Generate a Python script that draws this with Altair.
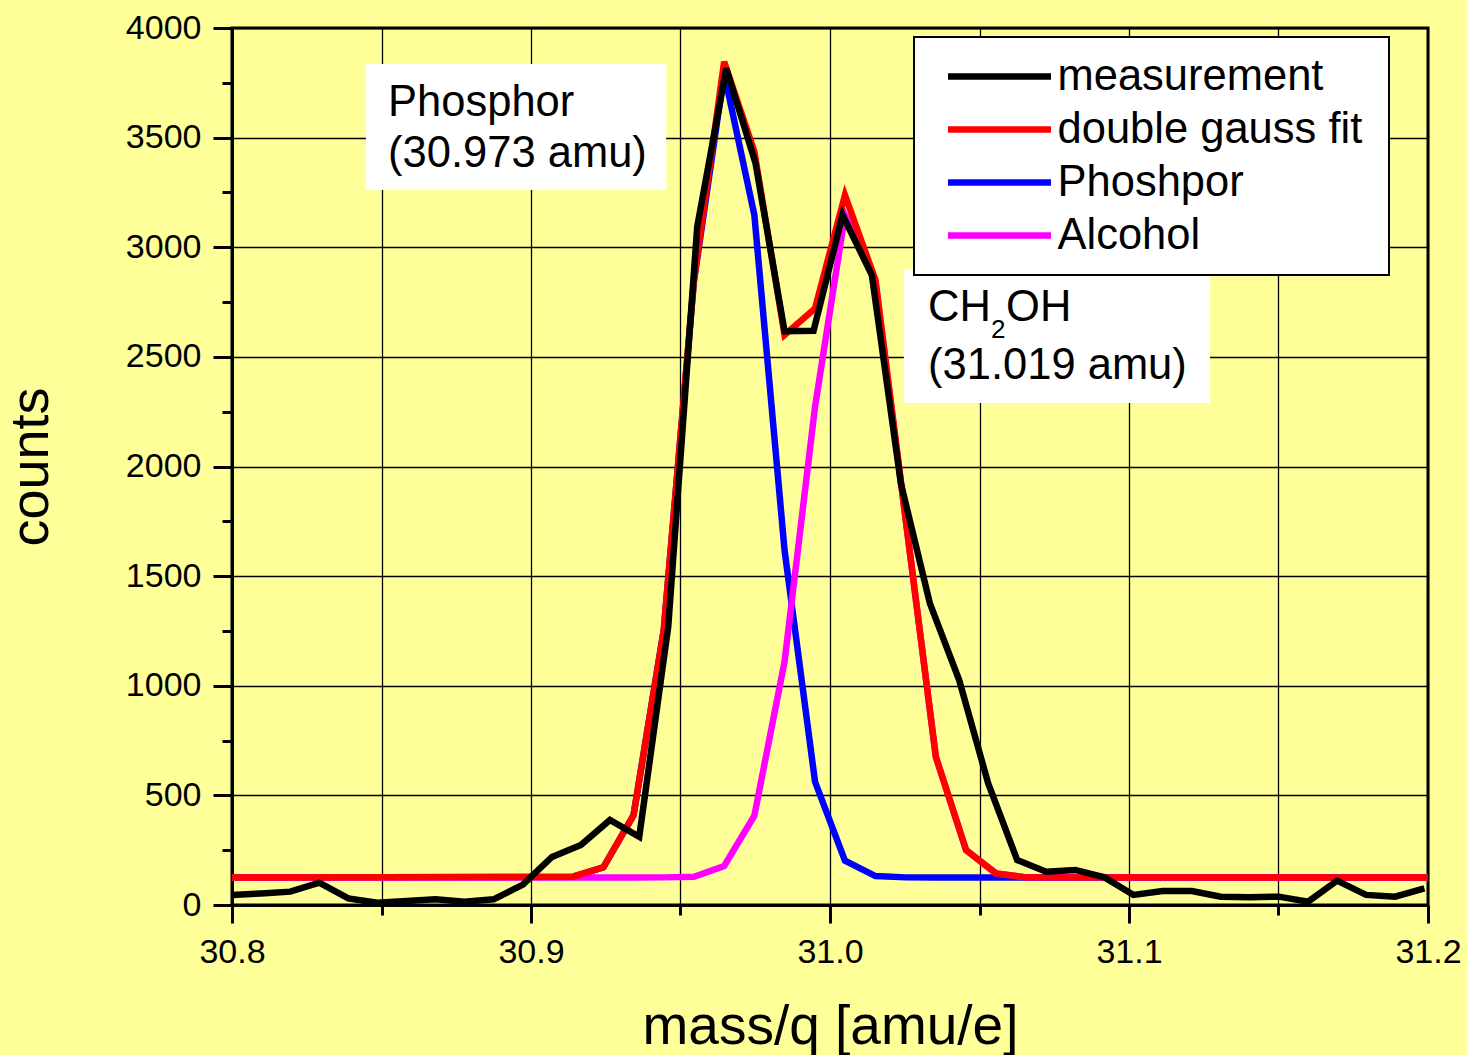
import altair as alt
import pandas as pd

# ---- measured spectrum: mass/q grid and counts ----
mass_meas = [30.8000, 30.8097, 30.8195, 30.8292, 30.8389, 30.8486, 30.8584, 30.8681,
             30.8778, 30.8875, 30.8973, 30.9070, 30.9167, 30.9264, 30.9362, 30.9459,
             30.9556, 30.9653, 30.9751, 30.9848, 30.9945, 31.0042, 31.0140, 31.0237,
             31.0334, 31.0432, 31.0529, 31.0626, 31.0723, 31.0821, 31.0918, 31.1015,
             31.1112, 31.1210, 31.1307, 31.1404, 31.1501, 31.1599, 31.1696, 31.1793,
             31.1890, 31.1988]
counts_meas = [46, 53, 61, 102, 30, 10, 18, 26, 15, 26,
               93, 219, 274, 388, 311, 1269, 3094, 3816, 3383, 2617,
               2619, 3147, 2873, 1923, 1376, 1026, 555, 205, 152, 160,
               126, 46, 64, 64, 38, 35, 38, 15, 111, 46,
               38, 76]

# ---- fit curves evaluated on the fit grid ----
mass_fit = [30.8000, 30.9141, 30.9242, 30.9343, 30.9444, 30.9545, 30.9646, 30.9747,
            30.9848, 30.9950, 31.0050, 31.0152, 31.0253, 31.0354, 31.0455, 31.0555,
            31.0656, 31.2000]
fit_total = [125, 129, 172, 410, 1254, 2850, 3846, 3436, 2600, 2721,
             3238, 2851, 1760, 676, 251, 144, 126, 125]
fit_phosphor = [125, 129, 172, 410, 1254, 2846, 3793, 3147, 1619, 562,
                202, 132, 126, 125, 125, 125, 125, 125]
fit_alcohol = [125, 125, 125, 125, 126, 129, 178, 407, 1110, 2273,
               3147, 2845, 1759, 675, 251, 144, 126, 125]

series_names = ["measurement", "double gauss fit", "Phoshpor", "Alcohol"]
series_colors = ["#000000", "#FF0000", "#0000FF", "#FF00FF"]
series_widths = [6.5, 6.5, 3.5, 3.5]

x_ticks = [30.8, 30.85, 30.9, 30.95, 31.0, 31.05, 31.1, 31.15, 31.2]
y_ticks = [0, 250, 500, 750, 1000, 1250, 1500, 1750, 2000, 2250, 2500,
           2750, 3000, 3250, 3500, 3750, 4000]

frames = [
    pd.DataFrame({"mass": mass_meas, "counts": counts_meas, "series": "measurement"}),
    pd.DataFrame({"mass": mass_fit, "counts": fit_total, "series": "double gauss fit"}),
    pd.DataFrame({"mass": mass_fit, "counts": fit_phosphor, "series": "Phoshpor"}),
    pd.DataFrame({"mass": mass_fit, "counts": fit_alcohol, "series": "Alcohol"}),
]
df = pd.concat(frames, ignore_index=True)

FONT = "Liberation Sans"

major_x = "abs(datum.value * 10 - round(datum.value * 10)) < 0.001"
major_y = "datum.value % 500 === 0"

x_axis = alt.Axis(
    values=x_ticks, title="mass/q [amu/e]",
    grid=True, gridColor="black", gridWidth=1.3, gridOpacity=1,
    domainColor="black", domainWidth=3,
    tickColor="black", tickWidth=3,
    tickSize={"condition": {"test": major_x, "value": 18}, "value": 10},
    labelExpr=f"({major_x}) ? format(datum.value, '.1f') : ''",
    labelFont=FONT, labelFontSize=34, labelColor="black", labelPadding=12,
    labelFlush=False, labelOverlap=False,
    titleFont=FONT, titleFontSize=55, titleFontWeight="normal", titleColor="black",
    titleX=598, titleY=138, titleBaseline="alphabetic", titleAlign="center",
)
y_axis = alt.Axis(
    values=y_ticks, title="counts",
    grid=True, gridColor="black", gridWidth=1.3,
    gridOpacity={"condition": {"test": major_y, "value": 1}, "value": 0},
    domainColor="black", domainWidth=3,
    tickColor="black", tickWidth=3,
    tickSize={"condition": {"test": major_y, "value": 19}, "value": 10},
    labelExpr=f"({major_y}) ? format(datum.value, 'd') : ''",
    labelFont=FONT, labelFontSize=34, labelColor="black", labelPadding=12,
    labelFlush=False, labelOverlap=False,
    titleFont=FONT, titleFontSize=54, titleFontWeight="normal", titleColor="black",
    titleAngle=270, titleX=-185, titleY=438.5, titleBaseline="alphabetic", titleAlign="center",
)

# a blank title placed to the right widens the legend frame on that side
legend = alt.Legend(
    title="\u00a0", titleOrient="right", titleFontSize=12, titlePadding=9,
    orient="none", legendX=682, legendY=9, direction="vertical",
    symbolType="stroke", symbolSize=10609, symbolOffset=13, clipHeight=44,
    symbolStrokeWidth=5,
    rowPadding=9, padding=17.5, labelFont=FONT, labelFontSize=43.5, labelOffset=3,
    labelColor="black", labelLimit=600, fillColor="white", strokeColor="black",
)

x_enc = alt.X("mass:Q", scale=alt.Scale(domain=[30.8, 31.2], nice=False, zero=False), axis=x_axis)
y_enc = alt.Y("counts:Q", scale=alt.Scale(domain=[0, 4000], nice=False), axis=y_axis)
color_enc = alt.Color("series:N", scale=alt.Scale(domain=series_names, range=series_colors), legend=legend)
width_enc = alt.StrokeWidth("series:N", scale=alt.Scale(domain=series_names, range=series_widths), legend=None)

base = alt.Chart(df)
line_layers = []
for name in ["Phoshpor", "Alcohol", "double gauss fit", "measurement"]:
    line_layers.append(
        base.transform_filter(alt.datum.series == name)
        .mark_line(clip=True)
        .encode(x=x_enc, y=y_enc, color=color_enc, strokeWidth=width_enc)
    )

# white label boxes behind the peak annotations (data units)
label_boxes = pd.DataFrame({
    "m0": [30.8448, 31.0247], "m1": [30.9452, 31.1271],
    "c0": [3836, 2900], "c1": [3261, 2290],
})
boxes = alt.Chart(label_boxes).mark_rect(fill="white", stroke=None).encode(
    x="m0:Q", x2="m1:Q", y="c0:Q", y2="c1:Q")

label_lines = pd.DataFrame({
    "m": [30.8522, 30.8522, 31.0328, 31.0328],
    "c": [3600, 3365, 2664, 2399],
    "t": ["Phosphor", "(30.973 amu)", "CH", "(31.019 amu)"],
})
texts = alt.Chart(label_lines).mark_text(
    align="left", baseline="alphabetic", font=FONT, fontSize=43.5, color="black"
).encode(x="m:Q", y="c:Q", text="t:N")

formula_tail = pd.DataFrame({"m": [31.0328], "c": [2664]})
sub2 = alt.Chart(formula_tail).mark_text(
    align="left", baseline="alphabetic", font=FONT, fontSize=26, color="black", dx=63, dy=17
).encode(x="m:Q", y="c:Q", text=alt.value("2"))
oh = alt.Chart(formula_tail).mark_text(
    align="left", baseline="alphabetic", font=FONT, fontSize=43.5, color="black", dx=78
).encode(x="m:Q", y="c:Q", text=alt.value("OH"))

chart = alt.layer(boxes, texts, sub2, oh, *line_layers).properties(
    width=1196, height=877,
    autosize=alt.AutoSizeParams(type="none"),
    padding={"left": 232, "top": 28, "right": 39, "bottom": 150},
    background="#FFFF99",
).configure_view(
    stroke="black", strokeWidth=3, fill="#FFFF99"
).configure_legend(
    strokeWidth=2
)

chart.save("out.html", embed_options={"renderer": "svg", "actions": False})
